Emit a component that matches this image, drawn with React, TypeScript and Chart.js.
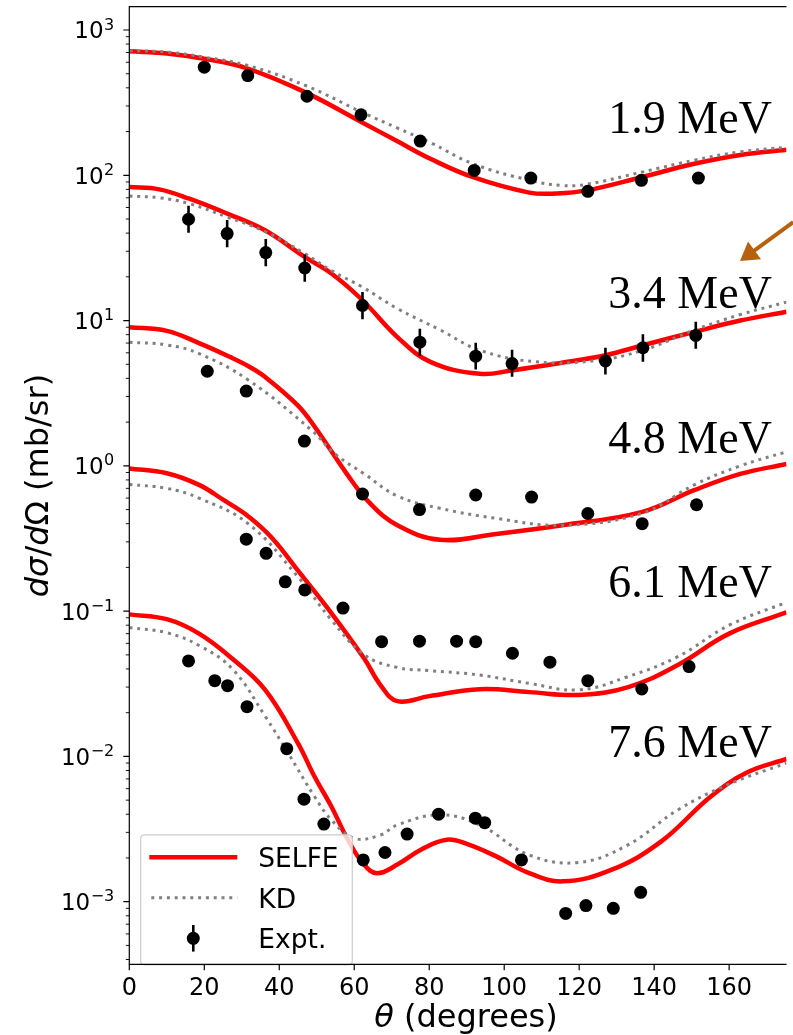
import React, { useEffect, useRef } from "react";
import { Chart, registerables } from "chart.js";

Chart.register(...registerables);

// ---------------- data ----------------
const energyLabels = ["1.9 MeV", "3.4 MeV", "4.8 MeV", "6.1 MeV", "7.6 MeV"];
const xTickValues = [0, 20, 40, 60, 80, 100, 120, 140, 160];
const yDecades = [-3, -2, -1, 0, 1, 2, 3];

// SELFE curves
const selfe19Ang = [0, 10, 20, 31.6, 47, 62, 71.4, 80.3, 91.7, 106.7, 114, 122, 136.6, 150.7, 163, 175.3];
const selfe19Val = [714, 690, 634, 543, 372, 232, 172, 130, 97, 76, 75, 78.7, 97, 120, 138, 150];
const selfe34Ang = [0, 8, 16, 26.1, 36.2, 46.8, 54, 62.2, 71.5, 80.3, 93.5, 102.3, 115, 127, 137, 150.7, 163, 175.3];
const selfe34Val = [83, 80, 69, 54.5, 41.8, 27.4, 21, 13.8, 7.7, 5.2, 4.3, 4.55, 5.1, 5.77, 6.76, 8.36, 10, 11.5];
const selfe48Ang = [0, 10, 18.6, 27, 31.8, 36.2, 45, 49.5, 58.3, 64, 71.5, 82.9, 97.9, 115.5, 136.6, 150.7, 163, 175.3];
const selfe48Val = [9.0, 8.5, 7.0, 5.6, 4.85, 4.1, 2.6, 1.85, 0.86, 0.56, 0.39, 0.31, 0.34, 0.39, 0.48, 0.68, 0.88, 1.03];
const selfe61Ang = [0, 10, 18.6, 25, 31.7, 38, 45, 53.9, 62.7, 67, 71.5, 80, 93.5, 106.7, 119.9, 133.1, 146.3, 160, 175.3];
const selfe61Val = [0.96, 0.89, 0.74, 0.585, 0.45, 0.32, 0.19, 0.097, 0.047, 0.031, 0.024, 0.026, 0.029, 0.0277, 0.0265, 0.03, 0.0426, 0.07, 0.098];
const selfe76Ang = [0, 10, 18.6, 27.5, 36.3, 45, 49.4, 53.9, 58.3, 62.6, 66.1, 71.5, 78, 84.7, 90, 97.9, 106, 115.5, 128.7, 141.9, 155.1, 165, 175.3];
const selfe76Val = [0.095, 0.088, 0.07, 0.047, 0.0286, 0.0123, 0.00727, 0.00452, 0.00267, 0.0018, 0.00157, 0.0018, 0.0023, 0.00267, 0.0025, 0.00205, 0.0016, 0.00138, 0.00166, 0.0026, 0.0053, 0.0078, 0.0096];

// KD curves
const kd19Ang = [0, 10, 20, 31.6, 47, 62, 71.4, 80.3, 91.7, 106.7, 115.5, 122, 136.6, 150.7, 163, 175.3];
const kd19Val = [720, 705, 650, 570, 415, 272, 212, 168, 120, 92.5, 85, 86.7, 105, 127, 145, 156];
const kd34Ang = [0, 8, 16, 26.1, 36.2, 46.8, 54, 62.2, 71.5, 83, 93.5, 108.5, 124.3, 137, 150.7, 163, 175.3];
const kd34Val = [72, 70, 63.8, 51.6, 41, 28.9, 22, 17, 12.1, 8.6, 6.25, 5.2, 5.3, 6.25, 8.6, 11, 13.4];
const kd48Ang = [0, 10, 18.6, 31.8, 48.6, 55, 62.7, 71.5, 82.9, 97.9, 115.5, 136.6, 150.7, 163, 175.3];
const kd48Val = [7.1, 6.8, 5.93, 3.89, 1.76, 1.2, 0.88, 0.62, 0.51, 0.435, 0.39, 0.47, 0.74, 1.0, 1.25];
const kd61Ang = [0, 10, 18.6, 31.7, 45, 53.9, 62.7, 71.4, 80, 93.5, 106.7, 119.9, 133, 146.3, 160, 175.3];
const kd61Val = [0.745, 0.7, 0.6, 0.4, 0.172, 0.087, 0.05, 0.041, 0.039, 0.0363, 0.0318, 0.0287, 0.0354, 0.0486, 0.08, 0.115];
const kd76Ang = [0, 10, 18.6, 27.5, 36.3, 42.4, 49.4, 53.9, 60, 67, 71.5, 82.9, 93.4, 106.6, 119.8, 133, 146.3, 159.5, 175.3];
const kd76Val = [0.077, 0.071, 0.058, 0.04, 0.0188, 0.0105, 0.0053, 0.00366, 0.00273, 0.00288, 0.00338, 0.00396, 0.00338, 0.0021, 0.00186, 0.00246, 0.00428, 0.00637, 0.009];

// Experimental points
const expt19Ang = [20.0, 31.6, 47.4, 61.8, 77.6, 92.0, 107.1, 122.3, 136.6, 151.8];
const expt19Val = [555, 486, 350, 261, 172, 108, 95.7, 77.5, 92.3, 95.7];
const expt34Ang = [15.8, 26.1, 36.4, 46.8, 62.2, 77.5, 92.4, 102.1, 127.0, 137.0, 151.1];
const expt34Val = [49.8, 39.7, 29.4, 23.0, 12.7, 7.1, 5.69, 5.06, 5.27, 6.5, 7.9];
const expt34Low = [40.2, 32.0, 23.7, 18.5, 10.2, 5.7, 4.6, 4.1, 4.25, 5.2, 6.4];
const expt34High = [61.8, 49.2, 36.5, 28.5, 15.7, 8.8, 7.05, 6.3, 6.5, 8.05, 9.8];
const expt48Ang = [20.8, 31.2, 46.7, 62.2, 77.4, 92.4, 107.3, 122.3, 136.8, 151.3];
const expt48Val = [4.48, 3.27, 1.48, 0.64, 0.5, 0.63, 0.61, 0.47, 0.4, 0.54];
const expt61Ang = [31.2, 36.5, 41.6, 46.8, 57.0, 67.3, 77.4, 87.3, 92.4, 102.2, 112.2, 122.3, 136.7, 149.3];
const expt61Val = [0.313, 0.25, 0.159, 0.14, 0.105, 0.0616, 0.0621, 0.0621, 0.0616, 0.0513, 0.0445, 0.0332, 0.0291, 0.0415];
const expt76Ang = [15.8, 22.8, 26.2, 31.4, 42.0, 46.6, 51.9, 62.4, 68.2, 74.1, 82.5, 92.3, 94.8, 104.6, 116.4, 121.8, 129.1, 136.4];
const expt76Val = [0.0454, 0.0332, 0.0307, 0.022, 0.0113, 0.00508, 0.00342, 0.00194, 0.00218, 0.00292, 0.004, 0.00376, 0.0035, 0.00194, 0.00083, 0.00094, 0.0009, 0.00116];

// annotation anchors (data units)
const energyLabelAngle = 171.4;
const energyLabelBase = [196.4, 12.15, 1.22, 0.1257, 0.00986];
const arrowTail = { x: 177.1, y: 47.7 };
const arrowTip = { x: 162.9, y: 25.7 };

// ---------------- styles ----------------
const RED = "#ff0000";
const GRAY = "#808080";
const KD_DASH = [3, 4.8];
const FONT = '"DejaVu Sans", sans-serif';

const pts = (a: number[], v: number[]) => a.map((x, i) => ({ x, y: v[i] }));

const selfeSets = [
  [selfe19Ang, selfe19Val],
  [selfe34Ang, selfe34Val],
  [selfe48Ang, selfe48Val],
  [selfe61Ang, selfe61Val],
  [selfe76Ang, selfe76Val],
];
const kdSets = [
  [kd19Ang, kd19Val],
  [kd34Ang, kd34Val],
  [kd48Ang, kd48Val],
  [kd61Ang, kd61Val],
  [kd76Ang, kd76Val],
];
const exptSets = [
  [expt19Ang, expt19Val],
  [expt34Ang, expt34Val],
  [expt48Ang, expt48Val],
  [expt61Ang, expt61Val],
  [expt76Ang, expt76Val],
];

const customPlugin = {
  id: "customPlot",
  afterDatasetsDraw(chart: any) {
    const { ctx, scales } = chart;
    const x = scales.x;
    const y = scales.y;
    ctx.save();
    ctx.beginPath();
    ctx.rect(chart.chartArea.left, chart.chartArea.top, chart.chartArea.right - chart.chartArea.left, chart.chartArea.bottom - chart.chartArea.top);
    ctx.clip();
    ctx.strokeStyle = "#000";
    ctx.lineWidth = 2.6;
    expt34Ang.forEach((a, i) => {
      const px = x.getPixelForValue(a);
      ctx.beginPath();
      ctx.moveTo(px, y.getPixelForValue(expt34Low[i]));
      ctx.lineTo(px, y.getPixelForValue(expt34High[i]));
      ctx.stroke();
    });
    ctx.restore();
  },
  afterDraw(chart: any) {
    const { ctx, chartArea, scales } = chart;
    const x = scales.x;
    const y = scales.y;
    const { left, right, top, bottom } = chartArea;
    ctx.save();

    // energy labels
    ctx.fillStyle = "#000";
    ctx.font = '46px "Liberation Serif", serif';
    ctx.textAlign = "right";
    ctx.textBaseline = "alphabetic";
    energyLabels.forEach((t, i) => {
      ctx.fillText(t, x.getPixelForValue(energyLabelAngle), y.getPixelForValue(energyLabelBase[i]));
    });

    // arrow
    const tx = x.getPixelForValue(arrowTail.x);
    const ty = y.getPixelForValue(arrowTail.y);
    const hx = x.getPixelForValue(arrowTip.x);
    const hy = y.getPixelForValue(arrowTip.y);
    const dx = hx - tx;
    const dy = hy - ty;
    const len = Math.hypot(dx, dy);
    const ux = dx / len;
    const uy = dy / len;
    const headLen = 18;
    const headHalf = 11;
    const bx = hx - ux * headLen;
    const by = hy - uy * headLen;
    ctx.strokeStyle = "#b5610f";
    ctx.fillStyle = "#b5610f";
    ctx.lineWidth = 4;
    ctx.beginPath();
    ctx.moveTo(tx, ty);
    ctx.lineTo(bx + ux * 2, by + uy * 2);
    ctx.stroke();
    ctx.beginPath();
    ctx.moveTo(hx, hy);
    ctx.lineTo(bx - uy * headHalf, by + ux * headHalf);
    ctx.lineTo(bx + uy * headHalf, by - ux * headHalf);
    ctx.closePath();
    ctx.fill();

    // legend
    const lx0 = left + 11.4;
    const lx1 = left + 223;
    const ly0 = bottom - 129.5;
    const ly1 = bottom + 0.5;
    const r = 4;
    ctx.beginPath();
    ctx.moveTo(lx0 + r, ly0);
    ctx.lineTo(lx1 - r, ly0);
    ctx.quadraticCurveTo(lx1, ly0, lx1, ly0 + r);
    ctx.lineTo(lx1, ly1 - r);
    ctx.quadraticCurveTo(lx1, ly1, lx1 - r, ly1);
    ctx.lineTo(lx0 + r, ly1);
    ctx.quadraticCurveTo(lx0, ly1, lx0, ly1 - r);
    ctx.lineTo(lx0, ly0 + r);
    ctx.quadraticCurveTo(lx0, ly0, lx0 + r, ly0);
    ctx.closePath();
    ctx.fillStyle = "rgba(255,255,255,0.8)";
    ctx.fill();
    ctx.strokeStyle = "#cccccc";
    ctx.lineWidth = 1.2;
    ctx.stroke();

    const dsSelfe = chart.data.datasets[10];
    const dsKd = chart.data.datasets[5];
    const dsExp = chart.data.datasets[0];
    const sx0 = left + 20;
    const sx1 = left + 108;
    const rowY = [bottom - 107, bottom - 66.5, bottom - 26];
    ctx.setLineDash([]);
    ctx.strokeStyle = dsSelfe.borderColor;
    ctx.lineWidth = dsSelfe.borderWidth;
    ctx.beginPath();
    ctx.moveTo(sx0, rowY[0]);
    ctx.lineTo(sx1, rowY[0]);
    ctx.stroke();
    ctx.setLineDash(dsKd.borderDash);
    ctx.strokeStyle = dsKd.borderColor;
    ctx.lineWidth = dsKd.borderWidth;
    ctx.beginPath();
    ctx.moveTo(sx0 + 2, rowY[1]);
    ctx.lineTo(sx1, rowY[1]);
    ctx.stroke();
    ctx.setLineDash([]);
    const mx = (sx0 + sx1) / 2;
    ctx.strokeStyle = "#000";
    ctx.lineWidth = 2.6;
    ctx.beginPath();
    ctx.moveTo(mx, rowY[2] - 13.3);
    ctx.lineTo(mx, rowY[2] + 13.3);
    ctx.stroke();
    ctx.fillStyle = dsExp.backgroundColor;
    ctx.beginPath();
    ctx.arc(mx, rowY[2], dsExp.pointRadius, 0, Math.PI * 2);
    ctx.fill();

    ctx.fillStyle = "#000";
    ctx.font = `26.5px ${FONT}`;
    ctx.textAlign = "left";
    ctx.textBaseline = "alphabetic";
    const legTexts = [dsSelfe.label, dsKd.label, dsExp.label];
    legTexts.forEach((t: string, i: number) => {
      ctx.fillText(t, left + 129, rowY[i] + 10);
    });

    // spines
    ctx.strokeStyle = "#000";
    ctx.lineWidth = 1.2;
    ctx.beginPath();
    ctx.moveTo(left, top);
    ctx.lineTo(left, bottom);
    ctx.moveTo(left - 0.6, bottom);
    ctx.lineTo(right, bottom);
    ctx.moveTo(left - 0.6, top);
    ctx.lineTo(right, top);
    ctx.stroke();

    // x ticks
    ctx.beginPath();
    xTickValues.forEach((v) => {
      const px = x.getPixelForValue(v);
      ctx.moveTo(px, bottom);
      ctx.lineTo(px, bottom + 6);
    });
    ctx.stroke();

    // y major ticks + labels
    const ymin = y.min;
    const ymax = y.max;
    ctx.beginPath();
    yDecades.forEach((e) => {
      const py = y.getPixelForValue(Math.pow(10, e));
      ctx.moveTo(left, py);
      ctx.lineTo(left - 6, py);
    });
    ctx.stroke();
    ctx.lineWidth = 0.9;
    ctx.beginPath();
    for (let e = -4; e <= 3; e++) {
      for (let m = 2; m <= 9; m++) {
        const v = m * Math.pow(10, e);
        if (v < ymin || v > ymax) continue;
        const py = y.getPixelForValue(v);
        ctx.moveTo(left, py);
        ctx.lineTo(left - 3.5, py);
      }
    }
    ctx.stroke();

    const labelRight = left - 15;
    yDecades.forEach((e) => {
      const py = y.getPixelForValue(Math.pow(10, e));
      const expStr = e < 0 ? "\u2212" + String(-e) : String(e);
      ctx.font = `16px ${FONT}`;
      const ew = ctx.measureText(expStr).width;
      ctx.font = `23px ${FONT}`;
      const bw = ctx.measureText("10").width;
      ctx.textAlign = "left";
      ctx.fillText("10", labelRight - ew - bw - 0.5, py + 8.4);
      ctx.font = `16px ${FONT}`;
      ctx.fillText(expStr, labelRight - ew, py - 0.4);
    });

    // x title
    const xParts: [string, boolean][] = [["\u03b8", true], [" (degrees)", false]];
    const xSize = 32;
    let total = 0;
    xParts.forEach(([t, it]) => {
      ctx.font = `${it ? "italic " : ""}${xSize}px ${FONT}`;
      total += ctx.measureText(t).width;
    });
    let cx = 466 - total / 2;
    ctx.textAlign = "left";
    xParts.forEach(([t, it]) => {
      ctx.font = `${it ? "italic " : ""}${xSize}px ${FONT}`;
      ctx.fillText(t, cx, bottom + 62.7);
      cx += ctx.measureText(t).width;
    });

    // y title
    const yParts: [string, boolean][] = [
      ["d", true],
      ["\u03c3", true],
      ["/", false],
      ["d", true],
      ["\u03a9", false],
      [" (mb/sr)", false],
    ];
    total = 0;
    yParts.forEach(([t, it]) => {
      ctx.font = `${it ? "italic " : ""}${xSize}px ${FONT}`;
      total += ctx.measureText(t).width;
    });
    ctx.translate(48, (top + bottom) / 2);
    ctx.rotate(-Math.PI / 2);
    let cy = -total / 2;
    yParts.forEach(([t, it]) => {
      ctx.font = `${it ? "italic " : ""}${xSize}px ${FONT}`;
      ctx.fillText(t, cy, 0);
      cy += ctx.measureText(t).width;
    });

    ctx.restore();
  },
};

export default function App() {
  const ref = useRef<HTMLCanvasElement | null>(null);

  useEffect(() => {
    if (!ref.current) return;
    const exptDatasets = exptSets.map(([a, v]) => ({
      type: "scatter" as const,
      label: "Expt.",
      data: pts(a, v),
      showLine: false,
      pointRadius: 6.5,
      pointHoverRadius: 6.5,
      backgroundColor: "#000",
      borderColor: "#000",
      borderWidth: 0,
    }));
    const kdDatasets = kdSets.map(([a, v]) => ({
      type: "line" as const,
      label: "KD",
      data: pts(a, v),
      borderColor: GRAY,
      borderWidth: 3,
      borderDash: KD_DASH,
      borderCapStyle: "butt" as const,
      pointRadius: 0,
      fill: false,
      tension: 0.4,
    }));
    const selfeDatasets = selfeSets.map(([a, v]) => ({
      type: "line" as const,
      label: "SELFE",
      data: pts(a, v),
      borderColor: RED,
      borderWidth: 4.5,
      pointRadius: 0,
      fill: false,
      tension: 0.4,
    }));

    const chart = new Chart(ref.current, {
      type: "line",
      data: { datasets: [...exptDatasets, ...kdDatasets, ...selfeDatasets] as any },
      options: {
        animation: false,
        responsive: false,
        devicePixelRatio: 1,
        layout: { padding: { top: 6.7, right: 0, bottom: 0, left: 0 } },
        plugins: { legend: { display: false }, tooltip: { enabled: false }, title: { display: false } },
        events: [],
        scales: {
          x: {
            type: "linear",
            min: 0,
            max: 175.3,
            bounds: "data",
            afterBuildTicks: (s: any) => {
              s.ticks = xTickValues.map((v) => ({ value: v }));
            },
            afterFit: (s: any) => {
              s.height = 70.7;
            },
            grid: { display: false, drawTicks: false },
            border: { display: false },
            ticks: {
              color: "#000",
              font: { family: "DejaVu Sans", size: 24 },
              padding: 10.3,
              maxRotation: 0,
              autoSkip: false,
              callback: (v: any) => String(v),
            },
          },
          y: {
            type: "logarithmic",
            min: 3.707e-4,
            max: 1447,
            bounds: "data",
            afterBuildTicks: (s: any) => {
              s.ticks = yDecades.map((e) => ({ value: Math.pow(10, e) }));
            },
            afterFit: (s: any) => {
              s.width = 129.3;
            },
            grid: { display: false, drawTicks: false },
            border: { display: false },
            ticks: { display: false },
          },
        },
      },
      plugins: [customPlugin],
    } as any);
    return () => chart.destroy();
  }, []);

  return (
    <div style={{ position: "absolute", left: 0, top: 0, width: 793, height: 1035, background: "#fff" }}>
      <canvas ref={ref} width={793} height={1035} style={{ display: "block", width: 793, height: 1035 }} />
    </div>
  );
}
